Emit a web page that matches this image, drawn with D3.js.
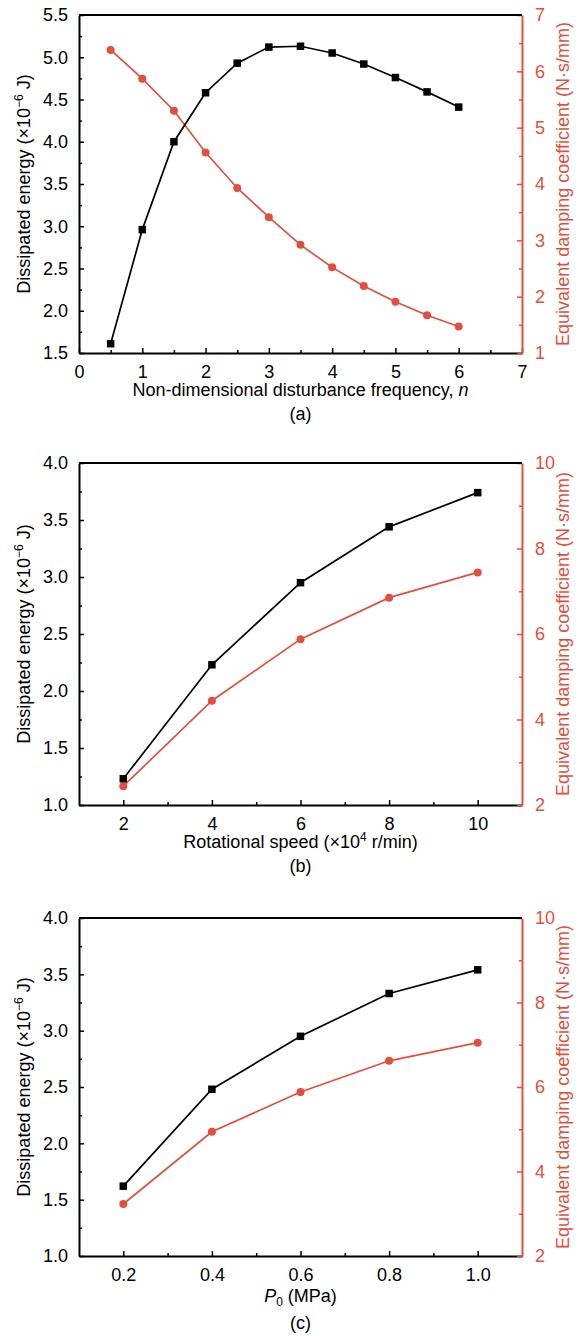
<!DOCTYPE html>
<html>
<head>
<meta charset="utf-8">
<script src="https://cdn.jsdelivr.net/npm/d3@7"></script>
<style>
  html, body { margin: 0; padding: 0; background: #fff; }
  svg { display: block; font-family: "Liberation Sans", Arial, Helvetica, sans-serif; }
</style>
</head>
<body>
<svg id="chart" width="586" height="1336"></svg>
<script>
// ---------- Data ----------
// Panel (a)
const freqA = [0.5, 1, 1.5, 2, 2.5, 3, 3.5, 4, 4.5, 5, 5.5, 6];
const energyA = [1.61, 2.96, 4.00, 4.58, 4.93, 5.12, 5.13, 5.05, 4.92, 4.76, 4.59, 4.41];
const dampingA = [6.38, 5.87, 5.30, 4.56, 3.93, 3.41, 2.92, 2.52, 2.19, 1.91, 1.67, 1.47];
const xTicksA = [0, 1, 2, 3, 4, 5, 6, 7];
const yTicksA = [1.5, 2.0, 2.5, 3.0, 3.5, 4.0, 4.5, 5.0, 5.5];
const y2TicksA = [1, 2, 3, 4, 5, 6, 7];

// Panel (b)
const speedB = [2, 4, 6, 8, 10];
const energyB = [1.23, 2.23, 2.95, 3.44, 3.74];
const dampingB = [2.44, 4.44, 5.88, 6.85, 7.44];
const xTicksB = [2, 4, 6, 8, 10];
const yTicksB = [1.0, 1.5, 2.0, 2.5, 3.0, 3.5, 4.0];
const y2TicksB = [2, 4, 6, 8, 10];

// Panel (c)
const pressureC = [0.2, 0.4, 0.6, 0.8, 1.0];
const energyC = [1.62, 2.48, 2.95, 3.33, 3.54];
const dampingC = [3.23, 4.94, 5.88, 6.62, 7.05];
const xTicksC = [0.2, 0.4, 0.6, 0.8, 1.0];
const yTicksC = [1.0, 1.5, 2.0, 2.5, 3.0, 3.5, 4.0];
const y2TicksC = [2, 4, 6, 8, 10];

// ---------- Drawing ----------
const RED = "#e2503d";
const BLACK = "#000";
const svg = d3.select("#chart");

const panels = [
  {
    x: freqA, e: energyA, d: dampingA,
    xDom: [0, 7], yDom: [1.5, 5.5], y2Dom: [1, 7],
    xTicks: xTicksA, xMinor: d3.range(0.5, 7, 1),
    yTicks: yTicksA, yMinor: d3.range(1.75, 5.5, 0.5),
    y2Ticks: y2TicksA, y2Minor: d3.range(1.5, 7, 1),
    xFmt: d3.format("d"), yFmt: d3.format(".1f"), y2Fmt: d3.format("d"),
    top: 15, bottom: 353,
    xTitle: [{t: "Non-dimensional disturbance frequency, "}, {t: "n", italic: true}],
    xTitleY: 396, tag: "(a)", tagY: 420
  },
  {
    x: speedB, e: energyB, d: dampingB,
    xDom: [1, 11], yDom: [1, 4], y2Dom: [2, 10],
    xTicks: xTicksB, xMinor: [3, 5, 7, 9],
    yTicks: yTicksB, yMinor: d3.range(1.25, 4, 0.5),
    y2Ticks: y2TicksB, y2Minor: [3, 5, 7, 9],
    xFmt: d3.format("d"), yFmt: d3.format(".1f"), y2Fmt: d3.format("d"),
    top: 463, bottom: 805,
    xTitle: [{t: "Rotational speed (×10"}, {t: "4", sup: true}, {t: " r/min)"}],
    xTitleY: 848, tag: "(b)", tagY: 872
  },
  {
    x: pressureC, e: energyC, d: dampingC,
    xDom: [0.1, 1.1], yDom: [1, 4], y2Dom: [2, 10],
    xTicks: xTicksC, xMinor: [0.3, 0.5, 0.7, 0.9],
    yTicks: yTicksC, yMinor: d3.range(1.25, 4, 0.5),
    y2Ticks: y2TicksC, y2Minor: [3, 5, 7, 9],
    xFmt: d3.format(".1f"), yFmt: d3.format(".1f"), y2Fmt: d3.format("d"),
    top: 918, bottom: 1256,
    xTitle: [{t: "P", italic: true}, {t: "0", sub: true}, {t: " (MPa)"}],
    xTitleY: 1302, tag: "(c)", tagY: 1329
  }
];

const L = 79, R = 522;
const FS = 18;

function addRich(textSel, parts) {
  let shift = 0;
  parts.forEach(p => {
    const ts = textSel.append("tspan").text(p.t);
    let target = 0;
    if (p.italic) ts.attr("font-style", "italic");
    if (p.sup) { ts.attr("font-size", 12); target = -7; }
    if (p.sub) { ts.attr("font-size", 12); target = 4; }
    const dy = target - shift;
    if (dy !== 0) ts.attr("dy", dy);
    shift = target;
  });
}

panels.forEach(p => {
  const g = svg.append("g");
  const x = d3.scaleLinear().domain(p.xDom).range([L, R]);
  const y = d3.scaleLinear().domain(p.yDom).range([p.bottom, p.top]);
  const y2 = d3.scaleLinear().domain(p.y2Dom).range([p.bottom, p.top]);

  // minor ticks
  g.append("g").attr("transform", `translate(0,${p.bottom})`)
    .call(d3.axisBottom(x).tickValues(p.xMinor).tickSize(-3).tickFormat(""))
    .call(s => s.select(".domain").remove())
    .selectAll("line").attr("stroke", BLACK).attr("stroke-width", 1.5);
  g.append("g").attr("transform", `translate(${L},0)`)
    .call(d3.axisLeft(y).tickValues(p.yMinor).tickSize(-3).tickFormat(""))
    .call(s => s.select(".domain").remove())
    .selectAll("line").attr("stroke", BLACK).attr("stroke-width", 1.5);
  g.append("g").attr("transform", `translate(${R},0)`)
    .call(d3.axisRight(y2).tickValues(p.y2Minor).tickSize(-3).tickFormat(""))
    .call(s => s.select(".domain").remove())
    .selectAll("line").attr("stroke", RED).attr("stroke-width", 1.5);

  // major axes
  const xa = g.append("g").attr("transform", `translate(0,${p.bottom})`)
    .call(d3.axisBottom(x).tickValues(p.xTicks).tickSize(-5).tickSizeOuter(0).tickPadding(12).tickFormat(p.xFmt));
  const ya = g.append("g").attr("transform", `translate(${L},0)`)
    .call(d3.axisLeft(y).tickValues(p.yTicks).tickSize(-5).tickSizeOuter(0).tickPadding(11).tickFormat(p.yFmt));
  const y2a = g.append("g").attr("transform", `translate(${R},0)`)
    .call(d3.axisRight(y2).tickValues(p.y2Ticks).tickSize(-5).tickSizeOuter(0).tickPadding(13).tickFormat(p.y2Fmt));

  [xa, ya].forEach(a => {
    a.select(".domain").attr("stroke", BLACK).attr("stroke-width", 2);
    a.selectAll(".tick line").attr("stroke", BLACK).attr("stroke-width", 1.5);
    a.selectAll("text").attr("font-size", FS).attr("fill", BLACK).attr("font-family", "Liberation Sans, Arial, sans-serif");
  });
  y2a.select(".domain").attr("stroke", RED).attr("stroke-width", 2);
  y2a.selectAll(".tick line").attr("stroke", RED).attr("stroke-width", 1.5);
  y2a.selectAll("text").attr("font-size", FS).attr("fill", RED).attr("font-family", "Liberation Sans, Arial, sans-serif");

  // top frame line
  g.append("line").attr("x1", L).attr("x2", R).attr("y1", p.top).attr("y2", p.top)
    .attr("stroke", BLACK).attr("stroke-width", 2);

  // lines
  const idx = d3.range(p.x.length);
  const lineE = d3.line().x(i => x(p.x[i])).y(i => y(p.e[i]));
  const lineD = d3.line().x(i => x(p.x[i])).y(i => y2(p.d[i]));
  g.append("path").attr("d", lineD(idx)).attr("fill", "none").attr("stroke", RED).attr("stroke-width", 1.7);
  g.append("path").attr("d", lineE(idx)).attr("fill", "none").attr("stroke", BLACK).attr("stroke-width", 1.7);

  // markers
  g.selectAll(".dmk").data(idx).join("circle")
    .attr("cx", i => x(p.x[i])).attr("cy", i => y2(p.d[i])).attr("r", 4).attr("fill", RED);
  g.selectAll(".emk").data(idx).join("rect")
    .attr("x", i => x(p.x[i]) - 3.75).attr("y", i => y(p.e[i]) - 3.75)
    .attr("width", 7.5).attr("height", 7.5).attr("fill", BLACK);

  // axis titles
  const midY = (p.top + p.bottom) / 2;
  const lt = g.append("text").attr("transform", `translate(30,${midY}) rotate(-90)`)
    .attr("text-anchor", "middle").attr("font-size", FS).attr("fill", BLACK);
  addRich(lt, [{t: "Dissipated energy (×10"}, {t: "−6", sup: true}, {t: " J)"}]);
  g.append("text").attr("transform", `translate(569,${midY}) rotate(-90)`)
    .attr("text-anchor", "middle").attr("font-size", FS).attr("fill", RED)
    .text("Equivalent damping coefficient (N·s/mm)");

  const xt = g.append("text").attr("x", (L + R) / 2).attr("y", p.xTitleY)
    .attr("text-anchor", "middle").attr("font-size", FS).attr("fill", BLACK);
  addRich(xt, p.xTitle);

  g.append("text").attr("x", (L + R) / 2).attr("y", p.tagY)
    .attr("text-anchor", "middle").attr("font-size", FS).attr("fill", BLACK).text(p.tag);
});
</script>
</body>
</html>
